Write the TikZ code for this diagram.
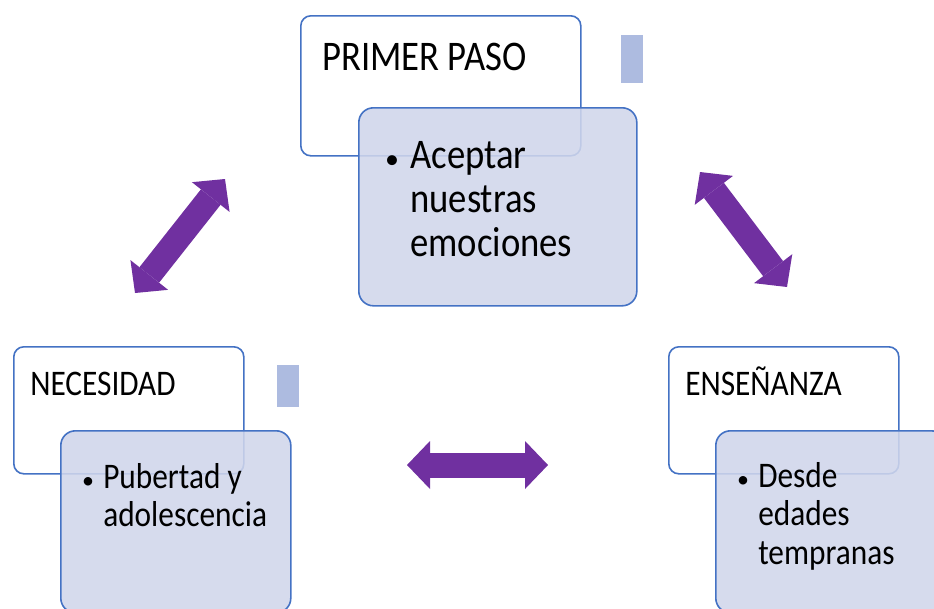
\documentclass[tikz,border=0pt]{standalone}
\usepackage{graphicx}
\usepackage{fontspec}
\setmainfont{Carlito}
\usetikzlibrary{arrows.meta}
\definecolor{boxblue}{HTML}{4472C4}
\definecolor{boxfill}{HTML}{D0D6EB}
\definecolor{tabgrey}{HTML}{ADBBE0}
\definecolor{arrowpurple}{HTML}{7030A0}
\newcommand{\tall}[1]{\scalebox{1}[1.15]{#1}}

\begin{document}
\begin{tikzpicture}[x=0.75pt, y=-0.75pt,
    headbox/.style={draw=boxblue, line width=1.2pt, fill=white, rounded corners=7.5pt, anchor=north west, inner sep=0, minimum width=172.5pt, minimum height=95.25pt},
    itembox/.style={draw=boxblue, line width=1.2pt, fill=boxfill, fill opacity=0.88, rounded corners=11pt, anchor=north west, inner sep=0, minimum width=172.5pt, minimum height=136.5pt},
    tabmark/.style={fill=tabgrey, anchor=north west, inner sep=0, minimum width=16pt, minimum height=33pt},
    title/.style={anchor=base west, inner sep=0, font=\fontsize{23.5}{25.2}\selectfont},
    bul/.style={anchor=base, inner sep=0, font=\fontsize{18}{20}\selectfont},
    item/.style={anchor=base west, inner sep=0, font=\fontsize{23.5}{25.2}\selectfont},
    dblarrow/.style={draw=arrowpurple, line width=18.75pt,
        {Triangle[length=17.25pt, width=36pt, line width=0pt]}-{Triangle[length=17.25pt, width=36pt, line width=0pt]}}]
    \useasboundingbox (0,0) rectangle (934,608);
    \clip (0,0) rectangle (934,608);

    % cajas
    \node[headbox, minimum width=210pt, minimum height=105pt] (paso) at (300,15) {};
    \node[itembox, minimum width=208.5pt, minimum height=148.5pt] (pasoitem) at (358,107) {};
    \node[tabmark, minimum height=36pt] (pasotab) at (621,35) {};

    \node[headbox] (nec) at (13,346) {};
    \node[itembox] (necitem) at (60,430) {};
    \node[tabmark, minimum height=31.5pt] (nectab) at (277,365) {};

    \node[headbox] (ens) at (668,346) {};
    \node[itembox] (ensitem) at (715,430) {};

    % textos
    \node[title, font=\fontsize{27.5}{29}\selectfont] (pasotxt) at (322,70) {\tall{PRIMER PASO}};
    \node[bul, font=\fontsize{21}{23}\selectfont] (pasobul) at (392,168) {\textbullet};
    \node[item, font=\fontsize{27.5}{29}\selectfont] (pasolist) at (410,168)
        {\tall{\parbox[t]{200pt}{\raggedright Aceptar\\nuestras\\emociones}}};

    \node[title] (nectxt) at (30,395) {\tall{NECESIDAD}};
    \node[bul] (necbul) at (88,488) {\textbullet};
    \node[item] (neclist) at (103,488) {\tall{\parbox[t]{160pt}{\raggedright Pubertad y\\adolescencia}}};

    \node[title] (enstxt) at (685,395) {\tall{ENSEÑANZA}};
    \node[bul] (ensbul) at (743,487) {\textbullet};
    \node[item] (enslist) at (758,487) {\tall{\parbox[t]{160pt}{\raggedright Desde\\edades\\tempranas}}};

    % flechas
    \coordinate (lefta) at (135,293);
    \coordinate (leftb) at (225,179);
    \coordinate (righta) at (700,172);
    \coordinate (rightb) at (787,287);
    \coordinate (mida) at (407,465);
    \coordinate (midb) at (548,465);
    \draw[dblarrow] (lefta) -- (leftb);
    \draw[dblarrow] (righta) -- (rightb);
    \draw[dblarrow] (mida) -- (midb);
\end{tikzpicture}
\end{document}
